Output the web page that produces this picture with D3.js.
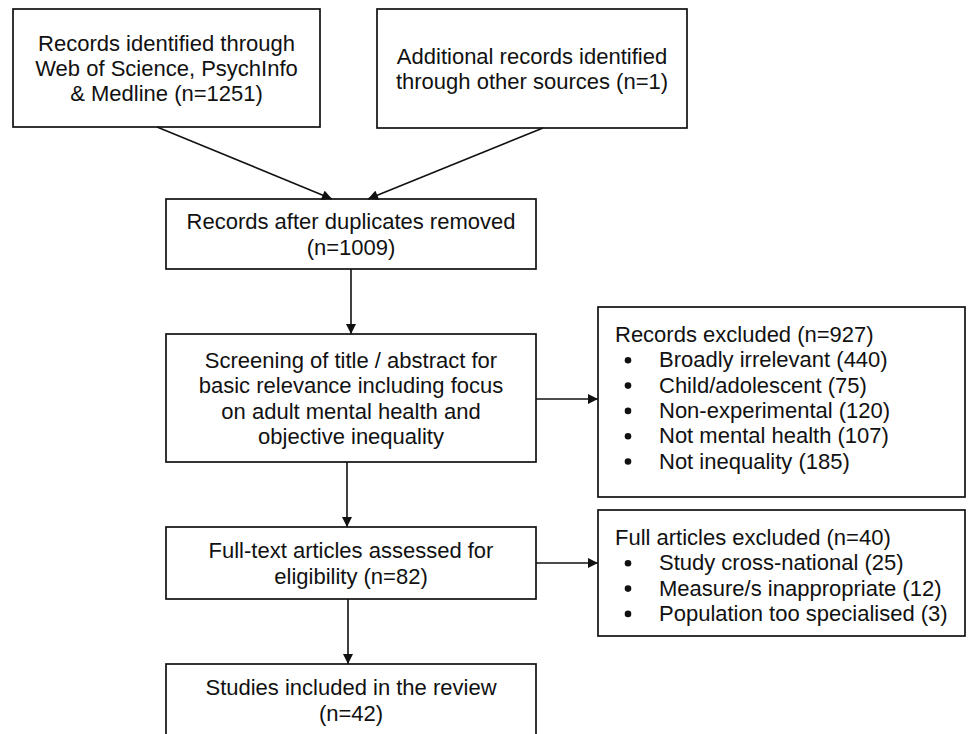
<!DOCTYPE html>
<html lang="en">
    <head>
        <meta charset="UTF-8">
        <title>Review flow diagram</title>
        <style>
            * { box-sizing: border-box; }
            body { margin: 0; background: #fff; overflow: hidden; }
            svg { display: block; font-family: 'Liberation Sans', Arial, sans-serif; }
        </style>
    </head>
    <body>
        <div id="chart"></div>
        <script src="https://cdn.jsdelivr.net/npm/d3@7/dist/d3.min.js"></script>
        <script>
            // counts at each stage
            var stageCounts  = [1251, 1, 1009, null, 82, 42];
            var stageLines   = [
                ['Records identified through', 'Web of Science, PsychInfo', '& Medline (n={n})'],
                ['Additional records identified', 'through other sources (n={n})'],
                ['Records after duplicates removed', '(n={n})'],
                ['Screening of title / abstract for', 'basic relevance including focus', 'on adult mental health and', 'objective inequality'],
                ['Full-text articles assessed for', 'eligibility (n={n})'],
                ['Studies included in the review', '(n={n})']
            ];
            // exclusions
            var screenTotal   = 927;
            var screenReasons = ['Broadly irrelevant', 'Child/adolescent', 'Non-experimental', 'Not mental health', 'Not inequality'];
            var screenCounts  = [440, 75, 120, 107, 185];
            var fullTotal     = 40;
            var fullReasons   = ['Study cross-national', 'Measure/s inappropriate', 'Population too specialised'];
            var fullCounts    = [25, 12, 3];

            var W = 968, H = 734;
            var fs = 22, lh = 25.3;
            var ink = '#111';

            // box geometry (layout only)
            var boxes = [
                {x: 13,  y: 9,   w: 307, h: 118},
                {x: 377, y: 9,   w: 310, h: 119},
                {x: 166, y: 199, w: 370, h: 70},
                {x: 166, y: 334, w: 370, h: 128},
                {x: 166, y: 527, w: 370, h: 72},
                {x: 166, y: 664, w: 370, h: 90}
            ];
            var side = [
                {x: 598, y: 307, w: 367, h: 190, title: 'Records excluded (n=' + screenTotal + ')', reasons: screenReasons, counts: screenCounts},
                {x: 598, y: 510, w: 367, h: 126, title: 'Full articles excluded (n=' + fullTotal + ')', reasons: fullReasons, counts: fullCounts}
            ];

            var svg = d3.select('#chart').append('svg').attr('width', W).attr('height', H);

            svg.append('defs').append('marker')
                .attr('id', 'head')
                .attr('viewBox', '0 0 10 10')
                .attr('refX', 10).attr('refY', 5)
                .attr('markerWidth', 11).attr('markerHeight', 10)
                .attr('markerUnits', 'userSpaceOnUse')
                .attr('orient', 'auto')
                .append('path').attr('d', 'M0,0L10,5L0,10Z').attr('fill', ink);

            // main boxes
            var stage = svg.selectAll('g.stage').data(stageLines).join('g').attr('class', 'stage');
            stage.append('rect')
                .attr('x', function (d, i) { return boxes[i].x; })
                .attr('y', function (d, i) { return boxes[i].y; })
                .attr('width', function (d, i) { return boxes[i].w; })
                .attr('height', function (d, i) { return boxes[i].h; })
                .attr('fill', 'none').attr('stroke', ink).attr('stroke-width', 1.7);

            stage.each(function (lines, i) {
                var b = boxes[i];
                var n = stageCounts[i];
                var cy = (i === 5) ? 700 : b.y + b.h / 2;
                var y0 = cy - (lines.length - 1) * lh / 2;
                d3.select(this).selectAll('text').data(lines).join('text')
                    .attr('x', b.x + b.w / 2)
                    .attr('y', function (t, j) { return y0 + j * lh + 8; })
                    .attr('text-anchor', 'middle')
                    .attr('font-size', fs).attr('fill', ink)
                    .text(function (t) { return t.replace('{n}', n); });
            });

            // side boxes
            var sg = svg.selectAll('g.side').data(side).join('g').attr('class', 'side');
            sg.append('rect')
                .attr('x', function (d) { return d.x; }).attr('y', function (d) { return d.y; })
                .attr('width', function (d) { return d.w; }).attr('height', function (d) { return d.h; })
                .attr('fill', 'none').attr('stroke', ink).attr('stroke-width', 1.7);
            sg.each(function (d) {
                var g = d3.select(this);
                var top = d.y + 27;
                g.append('text').attr('x', d.x + 17).attr('y', top + 8)
                    .attr('font-size', fs).attr('fill', ink).text(d.title);
                var items = d.reasons.map(function (r, k) { return r + ' (' + d.counts[k] + ')'; });
                g.selectAll('circle').data(items).join('circle')
                    .attr('cx', d.x + 30).attr('cy', function (t, k) { return top + (k + 1) * lh + 1; })
                    .attr('r', 3.3).attr('fill', ink);
                g.selectAll('text.item').data(items).join('text').attr('class', 'item')
                    .attr('x', d.x + 61).attr('y', function (t, k) { return top + (k + 1) * lh + 8; })
                    .attr('font-size', fs).attr('fill', ink).text(function (t) { return t; });
            });

            // arrows
            var arrows = [
                [157, 127, 332, 199],
                [543, 128, 368, 199],
                [351, 269, 351, 334],
                [347, 462, 347, 527],
                [348, 599, 348, 664],
                [536, 399, 598, 399],
                [536, 563, 598, 563]
            ];
            svg.selectAll('line.arrow').data(arrows).join('line').attr('class', 'arrow')
                .attr('x1', function (d) { return d[0]; }).attr('y1', function (d) { return d[1]; })
                .attr('x2', function (d) { return d[2]; }).attr('y2', function (d) { return d[3]; })
                .attr('stroke', ink).attr('stroke-width', 1.6)
                .attr('marker-end', 'url(#head)');
        </script>
    </body>
</html>
